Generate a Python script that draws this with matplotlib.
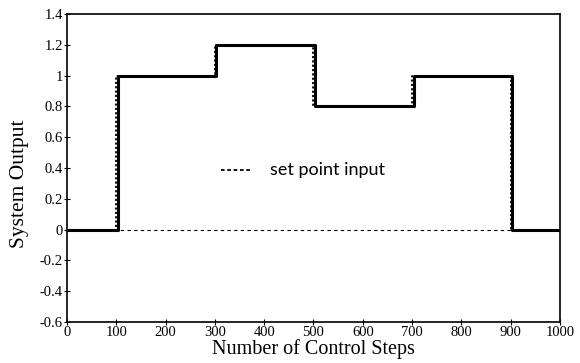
import matplotlib
matplotlib.use("Agg")
import matplotlib.pyplot as plt

# Set point input (step changes)
sp_steps = [0, 100, 300, 500, 700, 900, 1000]
sp_levels = [0, 1.0, 1.2, 0.8, 1.0, 0.0, 0.0]

# System output (tracks set point with a small lag)
out_steps = [0, 103, 303, 503, 703, 903, 1000]
out_levels = [0, 1.0, 1.2, 0.8, 1.0, 0.0, 0.0]

xticks = [0, 100, 200, 300, 400, 500, 600, 700, 800, 900, 1000]
yticks = [-0.6, -0.4, -0.2, 0, 0.2, 0.4, 0.6, 0.8, 1, 1.2, 1.4]
yticklabels = ["-0.6", "-0.4", "-0.2", "0", "0.2", "0.4", "0.6", "0.8", "1", "1.2", "1.4"]

plt.rcParams['font.family'] = ['Liberation Serif', 'DejaVu Serif']

fig = plt.figure(figsize=(5.8, 3.63), dpi=100)
ax = fig.add_axes([0.1155, 0.1129, 0.85, 0.8485])

# zero reference dashed
ax.plot([0, 1000], [0, 0], color='black', lw=0.8, ls=(0, (3, 3)))
ax.step(sp_steps, sp_levels, where='post', color='black', lw=1.3, ls=(0, (1.2, 1.2)))
ax.step(out_steps, out_levels, where='post', color='black', lw=2.2)

# legend-like annotation
ax.plot([312, 375], [0.385, 0.385], color='black', lw=1.3, ls=(0, (2, 1.5)))
ax.text(412, 0.385, "set point input", fontsize=13, va='center', ha='left',
        family=['Lato', 'DejaVu Sans'])

ax.set_xlim(0, 1000)
ax.set_ylim(-0.6, 1.4)
ax.set_xticks(xticks)
ax.set_yticks(yticks)
ax.set_yticklabels(yticklabels)
ax.tick_params(direction='inout', length=4, width=0.8, labelsize=10.5, pad=1)
for s in ax.spines.values():
    s.set_linewidth(1.2)

ax.set_xlabel("Number of Control Steps", fontsize=14.5, labelpad=0)
ax.set_ylabel("System Output", fontsize=15.5, labelpad=2)
ax.yaxis.set_label_coords(-0.078, 0.45)

fig.savefig("out.png", dpi=100)
